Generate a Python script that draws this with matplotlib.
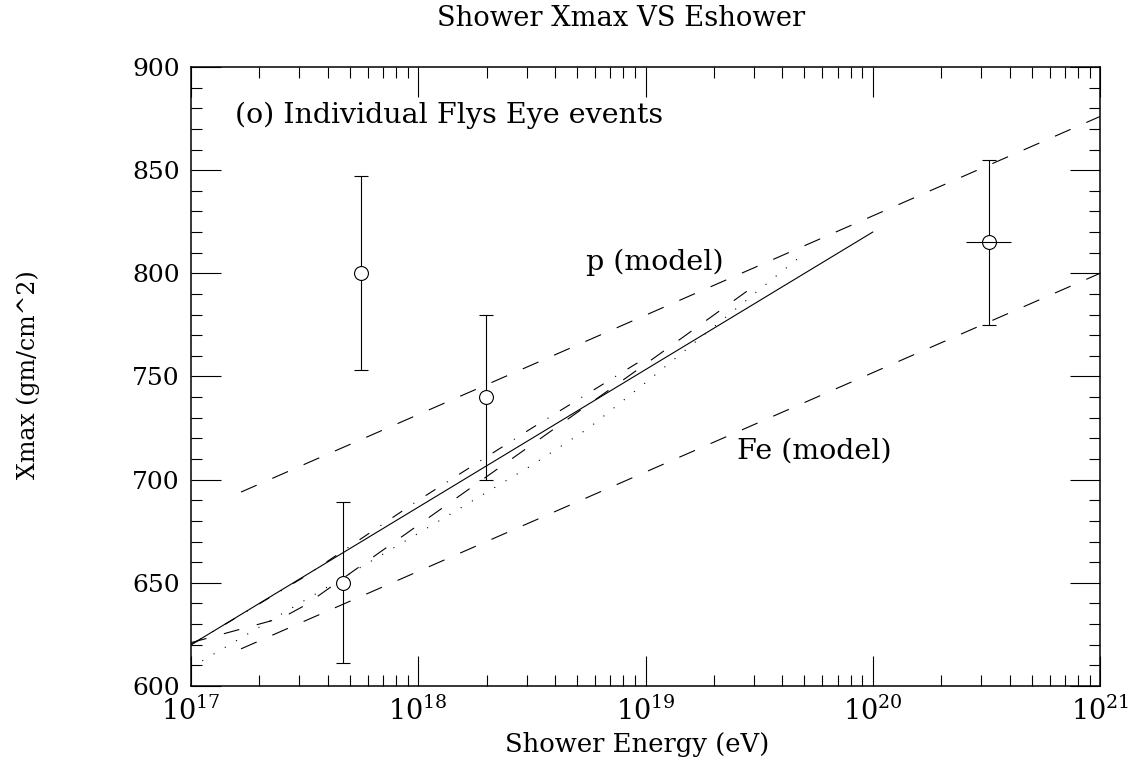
import matplotlib
matplotlib.use("Agg")
import matplotlib.pyplot as plt
import numpy as np
from matplotlib.ticker import LogLocator, MultipleLocator, NullFormatter

plt.rcParams["font.family"] = "DejaVu Serif"
plt.rcParams["mathtext.fontset"] = "dejavuserif"
plt.rcParams["lines.scale_dashes"] = False

# Fly's Eye events: log10(E/eV), Xmax and its error (g/cm^2)
event_log_e = [17.67, 17.75, 18.30, 20.51]
event_xmax = [650, 800, 740, 815]
event_err = [39, 47, 40, 40]
event_dlog_e = [0.0, 0.0, 0.0, 0.1]

# model curves (log10 E, Xmax)
solid_log_e = [17.0, 20.0]
solid_xmax = [620, 820]

dashdot_log_e = [17.0, 17.5, 18.0, 18.5, 19.0]
dashdot_xmax = [620, 653, 690, 725, 759]

longdash_log_e = [17.0, 17.2, 17.4, 17.5, 18.0, 18.5, 19.0, 19.48]
longdash_xmax = [621, 627, 633, 639, 678, 717, 756, 794]

dotted_log_e = [17.0, 17.5, 18.0, 18.5, 18.75, 19.0, 19.25, 19.5, 19.68]
dotted_xmax = [609, 641.5, 674, 707, 725, 747, 769.5, 792, 808]

p_log_e = [17.22, 21.0]
p_xmax = [694, 876]

fe_log_e = [17.22, 21.0]
fe_xmax = [618, 800]


def energy(log_e):
    return 10.0 ** np.asarray(log_e)


fig = plt.figure(figsize=(11.29, 7.64), dpi=100)
ax = fig.add_axes([0.1692, 0.1021, 0.8051, 0.8102])

lw = 0.8
ax.plot(energy(solid_log_e), solid_xmax, color="k", lw=lw)
ax.plot(energy(dashdot_log_e), dashdot_xmax, color="k", lw=lw,
        dashes=(8.4, 9.7, 0.8, 9.7))
ax.plot(energy(longdash_log_e), longdash_xmax, color="k", lw=lw,
        dashes=(11.5, 13))
ax.plot(energy(dotted_log_e), dotted_xmax, color="k", lw=lw,
        dashes=(0.8, 8.6))
ax.plot(energy(p_log_e), p_xmax, color="k", lw=lw, dashes=(12.3, 12.3))
ax.plot(energy(fe_log_e), fe_xmax, color="k", lw=lw, dashes=(12.3, 12.3))

e = energy(event_log_e)
ax.errorbar(e, event_xmax, yerr=event_err, fmt="o", ms=10, mfc="white",
            mec="k", mew=lw, ecolor="k", elinewidth=lw, capsize=5,
            capthick=lw, zorder=3)
dlog = np.asarray(event_dlog_e)
has_x = dlog > 0
xerr = [e[has_x] - energy(np.asarray(event_log_e)[has_x] - dlog[has_x]),
        energy(np.asarray(event_log_e)[has_x] + dlog[has_x]) - e[has_x]]
ax.errorbar(e[has_x], np.asarray(event_xmax)[has_x], xerr=xerr, fmt="none",
            ecolor="k", elinewidth=lw, capsize=0, zorder=4)

ax.set_xscale("log")
ax.set_xlim(1e17, 1e21)
ax.set_ylim(600, 900)
ax.xaxis.set_major_locator(LogLocator(base=10, numticks=10))
ax.xaxis.set_minor_locator(LogLocator(base=10, subs=np.arange(2, 10), numticks=40))
ax.xaxis.set_minor_formatter(NullFormatter())
ax.yaxis.set_major_locator(MultipleLocator(50))
ax.yaxis.set_minor_locator(MultipleLocator(10))

ax.tick_params(which="both", direction="in", top=True, right=True, width=0.8)
ax.tick_params(which="major", length=21.5)
ax.tick_params(which="minor", length=8)
ax.tick_params(axis="y", pad=8, labelsize=18)
ax.tick_params(axis="x", pad=8, labelsize=19.5)
for s in ax.spines.values():
    s.set_linewidth(1.1)

ax.text(0.048, 0.922, "(o) Individual Flys Eye events", transform=ax.transAxes,
        fontsize=20.5, va="center", ha="left")
ax.text(0.4345, 0.685, "p (model)", transform=ax.transAxes,
        fontsize=20.5, va="center", ha="left")
ax.text(0.6007, 0.380, "Fe (model)", transform=ax.transAxes,
        fontsize=20.5, va="center", ha="left")

fig.text(0.550, 0.976, "Shower Xmax VS Eshower", fontsize=19.7,
         ha="center", va="center")
fig.text(0.564, 0.025, "Shower Energy (eV)", fontsize=18.6,
         ha="center", va="center")
fig.text(0.025, 0.509, "Xmax (gm/cm^2)", fontsize=17, rotation=90,
         ha="center", va="center")

fig.savefig("out.png", dpi=100)
